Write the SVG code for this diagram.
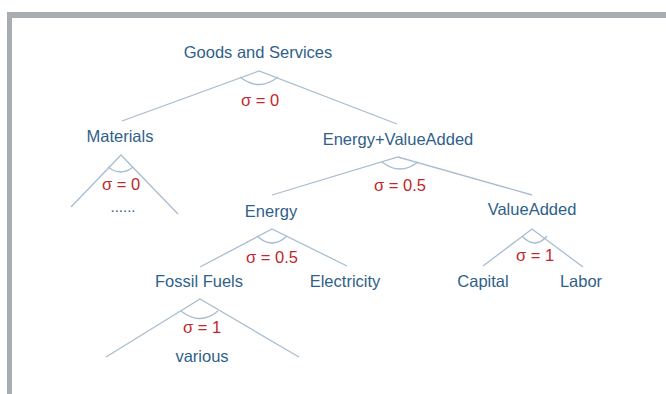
<svg xmlns="http://www.w3.org/2000/svg" width="666" height="394" viewBox="0 0 666 394">
<style>
.lbl{font-family:"Liberation Sans",Arial,sans-serif;font-size:16.5px;fill:#2f5f8a;text-anchor:middle}
.sig{font-family:"Liberation Sans",Arial,sans-serif;font-size:16.5px;fill:#c0282d;text-anchor:middle}
.ln{stroke:#a9bdd0;stroke-width:1.3;fill:none}
</style>
<rect x="0" y="0" width="666" height="394" fill="#ffffff"/>
<rect x="7" y="12" width="659" height="6" fill="#a8adb2"/>
<rect x="7" y="12" width="5" height="382" fill="#a8adb2"/>
<g id="connectors">
<path class="ln" d="M122,121 L259,71 L397,124"/>
<path class="ln" d="M240,77 Q259,92 278,77"/>
<path class="ln" d="M71,207 L121,155 L178,214"/>
<path class="ln" d="M108,167 Q121,177 133,167"/>
<path class="ln" d="M272,195 L398,157 L532,195"/>
<path class="ln" d="M382,162 Q400,176 418,162"/>
<path class="ln" d="M200,267 L272,229 L347,266"/>
<path class="ln" d="M257,236 Q272,250 287,236"/>
<path class="ln" d="M483,266 L532,229 L583,267"/>
<path class="ln" d="M522,236 Q535,250 547,236"/>
<path class="ln" d="M106,357 L200,299 L299,357"/>
<path class="ln" d="M181,311 Q200,326 218,311"/>
</g>
<g id="goods"><text class="lbl" x="258" y="58">Goods and Services</text><text class="sig" x="260" y="106">σ = 0</text></g>
<g id="materials"><text class="lbl" x="120" y="142">Materials</text><text class="sig" x="121" y="190">σ = 0</text><text class="lbl" x="123" y="212" style="font-size:15px">......</text></g>
<g id="energy-va"><text class="lbl" x="398" y="145">Energy+ValueAdded</text><text class="sig" x="400" y="191">σ = 0.5</text></g>
<g id="energy"><text class="lbl" x="271" y="217">Energy</text><text class="sig" x="272" y="263">σ = 0.5</text></g>
<g id="valueadded"><text class="lbl" x="532" y="215">ValueAdded</text><text class="sig" x="535" y="261">σ = 1</text></g>
<g id="fossil"><text class="lbl" x="199" y="287">Fossil Fuels</text><text class="sig" x="202" y="333">σ = 1</text><text class="lbl" x="202" y="362">various</text></g>
<g id="electricity"><text class="lbl" x="345" y="287">Electricity</text></g>
<g id="capital"><text class="lbl" x="483" y="287">Capital</text></g>
<g id="labor"><text class="lbl" x="581" y="287">Labor</text></g>
</svg>
